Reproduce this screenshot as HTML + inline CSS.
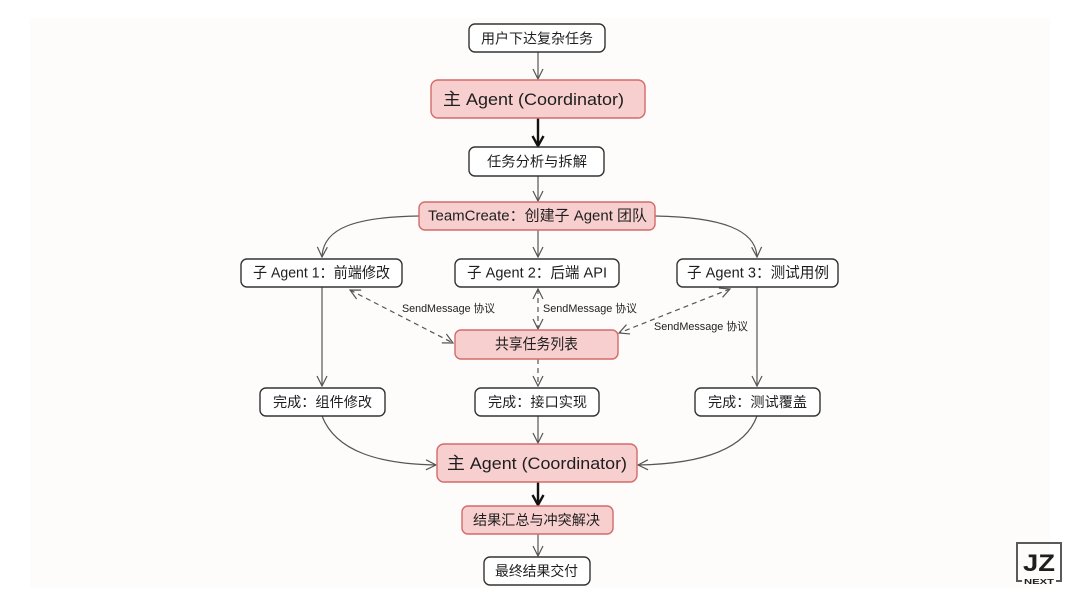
<!DOCTYPE html>
<html><head><meta charset="utf-8">
<style>
html,body{margin:0;padding:0;background:#ffffff;}
svg{display:block;}
text{font-family:"Liberation Sans","Noto Sans CJK SC",sans-serif;fill:#1e1e1e;}
</style></head>
<body>
<svg width="1080" height="608" viewBox="0 0 1080 608" xmlns="http://www.w3.org/2000/svg">
<defs>
<marker id="a" viewBox="0 0 12 12" refX="11" refY="6" markerWidth="12" markerHeight="12" markerUnits="userSpaceOnUse" orient="auto-start-reverse">
<path d="M1,1 L11,6 L1,11" fill="none" stroke="#555" stroke-width="1.2"/>
</marker>
<marker id="t" viewBox="0 0 14 14" refX="12" refY="7" markerWidth="14" markerHeight="14" markerUnits="userSpaceOnUse" orient="auto">
<path d="M2,1.5 L12,7 L2,12.5" fill="none" stroke="#111" stroke-width="2.4"/>
</marker>
</defs>
<rect x="0" y="0" width="1080" height="608" fill="#ffffff"/>
<rect x="30" y="18" width="1020" height="570" fill="#fdfcfa"/>

<!-- connectors -->
<g fill="none" stroke="#555" stroke-width="1.2">
<line x1="538" y1="52" x2="538" y2="79" marker-end="url(#a)"/>
<line x1="538" y1="176" x2="538" y2="201" marker-end="url(#a)"/>
<line x1="538" y1="230" x2="538" y2="257" marker-end="url(#a)"/>
<path d="M419,216 C355,217 323,228 322,257" marker-end="url(#a)"/>
<path d="M655,216 C722,217 756,230 757,257" marker-end="url(#a)"/>
<line x1="322" y1="287" x2="322" y2="386" marker-end="url(#a)"/>
<line x1="757" y1="287" x2="757" y2="386" marker-end="url(#a)"/>
<line x1="538" y1="359" x2="538" y2="386" stroke-dasharray="5,4" marker-end="url(#a)"/>
<line x1="538" y1="416" x2="538" y2="443" marker-end="url(#a)"/>
<path d="M322,416 C336,452 380,464 436,465" marker-end="url(#a)"/>
<path d="M757,416 C744,452 696,464 638,465" marker-end="url(#a)"/>
<line x1="538" y1="534" x2="538" y2="556" marker-end="url(#a)"/>
<!-- dashed SendMessage -->
<line x1="350" y1="290" x2="453" y2="343" stroke-dasharray="5,4" marker-start="url(#a)" marker-end="url(#a)"/>
<line x1="538" y1="289" x2="538" y2="329" stroke-dasharray="5,4" marker-start="url(#a)" marker-end="url(#a)"/>
<line x1="730" y1="289" x2="619" y2="333" stroke-dasharray="5,4" marker-start="url(#a)" marker-end="url(#a)"/>
</g>
<g fill="none" stroke="#111" stroke-width="2.4">
<line x1="538" y1="118" x2="538" y2="146" marker-end="url(#t)"/>
<line x1="538" y1="482" x2="538" y2="505" marker-end="url(#t)"/>
</g>

<!-- white boxes -->
<g fill="#ffffff" stroke="#333" stroke-width="1.4">
<rect x="469" y="24" width="136" height="28" rx="6"/>
<rect x="469" y="147" width="135" height="29" rx="6"/>
<rect x="241" y="259" width="161" height="28" rx="6"/>
<rect x="455" y="259" width="164" height="28" rx="6"/>
<rect x="677" y="259" width="161" height="28" rx="6"/>
<rect x="260" y="388" width="125" height="28" rx="6"/>
<rect x="475" y="388" width="124" height="28" rx="6"/>
<rect x="695" y="388" width="125" height="28" rx="6"/>
<rect x="484" y="557" width="106" height="28" rx="6"/>
</g>
<!-- pink boxes -->
<g fill="#f8cfcf" stroke="#d46a69" stroke-width="1.4">
<rect x="431" y="80" width="214" height="38" rx="7"/>
<rect x="419" y="202" width="236" height="28" rx="6"/>
<rect x="455" y="330" width="163" height="29" rx="6"/>
<rect x="437" y="444" width="200" height="38" rx="7"/>
<rect x="462" y="506" width="151" height="28" rx="6"/>
</g>

<!-- labels -->
<g dominant-baseline="central" font-size="14" text-anchor="start">
<text x="481" y="38.5" textLength="112" lengthAdjust="spacingAndGlyphs">用户下达复杂任务</text>
<text x="443" y="99.5" font-size="17" textLength="181" lengthAdjust="spacingAndGlyphs">主 Agent (Coordinator)</text>
<text x="487" y="161.5" textLength="100" lengthAdjust="spacingAndGlyphs">任务分析与拆解</text>
<text x="428" y="216" font-size="15" textLength="219" lengthAdjust="spacingAndGlyphs">TeamCreate：创建子 Agent 团队</text>
<text x="253" y="273" font-size="15" textLength="137" lengthAdjust="spacingAndGlyphs">子 Agent 1：前端修改</text>
<text x="467" y="273" font-size="15" textLength="140" lengthAdjust="spacingAndGlyphs">子 Agent 2：后端 API</text>
<text x="687" y="273" font-size="15" textLength="142" lengthAdjust="spacingAndGlyphs">子 Agent 3：测试用例</text>
<text x="495" y="344.5" font-size="15" textLength="83" lengthAdjust="spacingAndGlyphs">共享任务列表</text>
<text x="273" y="402" textLength="99" lengthAdjust="spacingAndGlyphs">完成：组件修改</text>
<text x="488" y="402" textLength="99" lengthAdjust="spacingAndGlyphs">完成：接口实现</text>
<text x="708" y="402" textLength="99" lengthAdjust="spacingAndGlyphs">完成：测试覆盖</text>
<text x="447" y="463.5" font-size="17" textLength="180" lengthAdjust="spacingAndGlyphs">主 Agent (Coordinator)</text>
<text x="473" y="520" textLength="127" lengthAdjust="spacingAndGlyphs">结果汇总与冲突解决</text>
<text x="495" y="571" textLength="83" lengthAdjust="spacingAndGlyphs">最终结果交付</text>
<text x="402" y="309" font-size="11" fill="#333" textLength="93" lengthAdjust="spacingAndGlyphs">SendMessage 协议</text>
<text x="543" y="309" font-size="11" fill="#333" textLength="94" lengthAdjust="spacingAndGlyphs">SendMessage 协议</text>
<text x="654" y="327" font-size="11" fill="#333" textLength="94" lengthAdjust="spacingAndGlyphs">SendMessage 协议</text>
</g>

<!-- logo -->
<g fill="none" stroke="#5a5a5a" stroke-width="2">
<path d="M1022,581 L1017,581 L1017,543 L1061,543 L1061,581 L1056,581"/>
</g>
<text x="1023" y="571" font-size="24" font-weight="bold" fill="#5a5a5a" textLength="32" lengthAdjust="spacingAndGlyphs">JZ</text>
<text x="1024" y="584" font-size="7" font-weight="bold" fill="#5a5a5a" textLength="30" lengthAdjust="spacingAndGlyphs">NEXT</text>
</svg>
</body></html>
